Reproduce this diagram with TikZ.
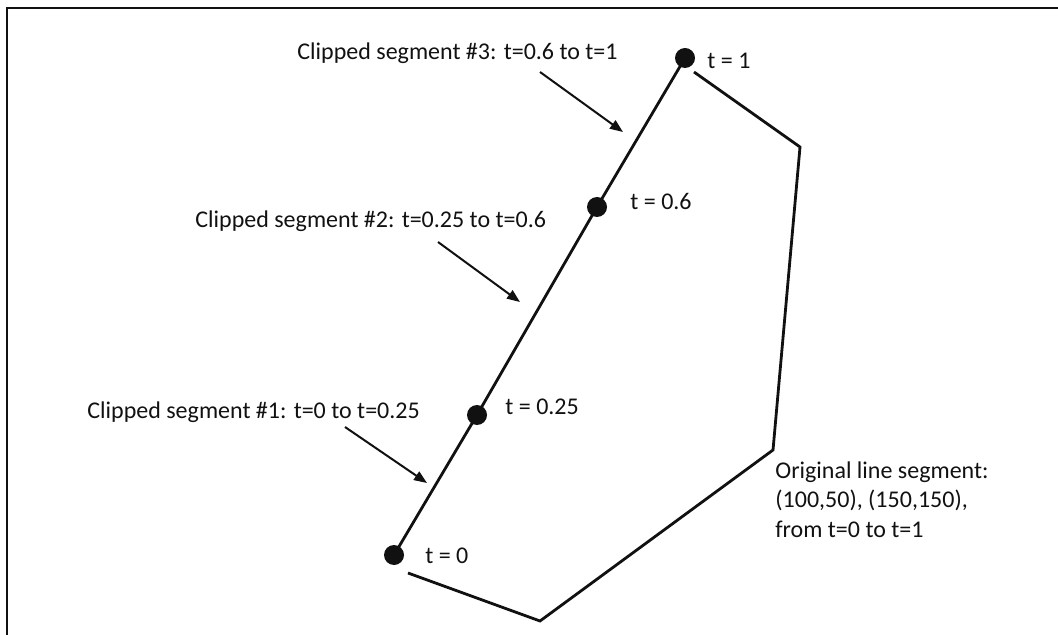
\documentclass[tikz,border=0pt]{standalone}
\usepackage{fontspec}
\setmainfont{Carlito}
\usetikzlibrary{arrows.meta,positioning}
\definecolor{ink}{HTML}{111111}
\tikzset{
  dot/.style={circle,fill=ink,inner sep=0pt,minimum size=10pt},
  tlabel/.style={anchor=base west,inner sep=0pt,text=ink,
                 font=\fontsize{12}{14.75}\selectfont},
  notelabel/.style={anchor=north west,inner sep=0pt,text=ink,align=left,
                    font=\fontsize{12}{14.75}\selectfont},
  segline/.style={draw=ink,line width=1.4pt},
  polyline/.style={draw=ink,line width=1.4pt,line join=miter},
  callout/.style={-{Triangle[length=6.5pt,width=5pt]},line width=1pt,draw=ink},
  frame/.style={draw=ink,line width=0.9pt}
}
\begin{document}
\begin{tikzpicture}[x=0.5pt,y=-0.5pt]
    \path[use as bounding box] (0,0) rectangle (1058,635);
    \draw[frame] (1058,8) -- (7,8) -- (7,635);

    % clipping polygon
    \draw[polyline] (694,72) -- (800,147) -- (773,450) -- (540,621) -- (408,573);

    % the line segment and its t values
    \node[dot] (p0) at (394,555) {};
    \node[dot] (p25) at (477,415) {};
    \node[dot] (p60) at (597,207) {};
    \node[dot] (p100) at (685,58) {};
    \draw[segline] (p0.center) -- (p25.center) -- (p60.center) -- (p100.center);

    \node[tlabel] (t0) at (425,563) {t = 0};
    \node[tlabel] (t25) at (505,415) {t = 0.25};
    \node[tlabel] (t60) at (630,210) {t = 0.6};
    \node[tlabel] (t100) at (707,69) {t = 1};

    % callouts
    \node[tlabel] (seg3) at (297,60) {Clipped segment \#3: t=0.6 to t=1};
    \node[tlabel] (seg2) at (195,228) {Clipped segment \#2: t=0.25 to t=0.6};
    \node[tlabel] (seg1) at (87,418) {Clipped segment \#1: t=0 to t=0.25};
    \coordinate (s3) at (540,72);  \coordinate (e3) at (623,132);
    \coordinate (s2) at (438,242); \coordinate (e2) at (520,302);
    \coordinate (s1) at (345,427); \coordinate (e1) at (427,483);
    \draw[callout] (s3) -- (e3);
    \draw[callout] (s2) -- (e2);
    \draw[callout] (s1) -- (e1);

    \node[notelabel] (orig) at (775,461)
      {Original line segment:\\(100,50), (150,150),\\from t=0 to t=1};
\end{tikzpicture}
\end{document}
